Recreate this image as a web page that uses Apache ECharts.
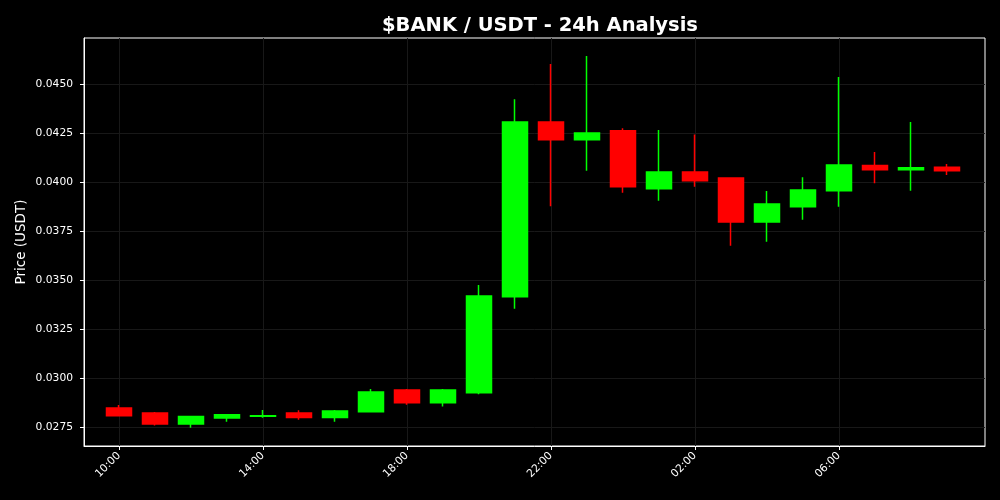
<!DOCTYPE html>
<html>
<head>
<meta charset="utf-8">
<style>
html,body{margin:0;padding:0;background:#000;}
#chart{width:1000px;height:500px;}
</style>
<script src="https://cdn.jsdelivr.net/npm/echarts@6/dist/echarts.min.js"></script>
</head>
<body>
<div id="chart"></div>
<script>
// hourly candles
const times = ['10:00','11:00','12:00','13:00','14:00','15:00','16:00','17:00','18:00','19:00','20:00','21:00',
               '22:00','23:00','00:00','01:00','02:00','03:00','04:00','05:00','06:00','07:00','08:00','09:00'];
const opens  = [0.02847,0.02821,0.02765,0.02796,0.02805,0.02821,0.02798,0.02828,0.02939,0.02874,0.02925,0.03415,
                0.04306,0.04216,0.04262,0.03966,0.04051,0.04020,0.03796,0.03874,0.03956,0.04085,0.04063,0.04076];
const closes = [0.02808,0.02765,0.02803,0.02813,0.02808,0.02798,0.02832,0.02929,0.02874,0.02939,0.03418,0.04306,
                0.04216,0.04250,0.03976,0.04051,0.04007,0.03796,0.03888,0.03959,0.04087,0.04063,0.04073,0.04058];
const lows   = [0.02805,0.02757,0.02746,0.02777,0.02797,0.02787,0.02777,0.02828,0.02864,0.02855,0.02917,0.03354,
                0.03876,0.04058,0.03945,0.03904,0.03976,0.03675,0.03695,0.03808,0.03874,0.03994,0.03956,0.04036];
const highs  = [0.02862,0.02826,0.02808,0.02816,0.02837,0.02835,0.02837,0.02944,0.02944,0.02944,0.03474,0.04423,
                0.04602,0.04643,0.04274,0.04265,0.04243,0.04025,0.03954,0.04025,0.04536,0.04153,0.04306,0.04092];
const yTicks = [0.0275,0.0300,0.0325,0.0350,0.0375,0.0400,0.0425,0.0450];
const xTickIdx = [0,4,8,12,16,20];

const data = times.map((t,i)=>[i, opens[i], closes[i], lows[i], highs[i]]);

const chart = echarts.init(document.getElementById('chart'), null, {renderer:'canvas'});
const font = 'DejaVu Sans';
chart.setOption({
  backgroundColor:'#000',
  animation:false,
  title:{
    text:'$BANK / USDT - 24h Analysis',
    left:535, top:11, textAlign:'center',
    textStyle:{color:'#fff', fontFamily:font, fontWeight:'bold', fontSize:19.5}
  },
  grid:{left:84, right:15, top:38, bottom:54, show:true, borderColor:'#fff', borderWidth:1, backgroundColor:'transparent'},
  xAxis:{
    type:'value', min:-0.972, max:24.06,
    axisLine:{show:true, onZero:false, lineStyle:{color:'#fff', width:1}},
    axisTick:{show:true, length:4, lineStyle:{color:'#fff'}, customValues:xTickIdx},
    axisLabel:{color:'#fff', fontFamily:font, fontSize:10.7, rotate:45, margin:8,
      customValues:xTickIdx, formatter:(v)=>times[Math.round(v)]},
    splitLine:{show:true, lineStyle:{color:'#181818', width:1}}
  },
  yAxis:{
    type:'value', min:0.02653, max:0.04735, scale:true,
    name:'Price (USDT)', nameLocation:'middle', nameGap:56, nameMoveOverlap:false,
    nameTextStyle:{color:'#fff', fontFamily:font, fontSize:13.5},
    axisLine:{show:true, onZero:false, lineStyle:{color:'#fff', width:1}},
    axisTick:{show:true, length:4, lineStyle:{color:'#fff'}, customValues:yTicks},
    axisLabel:{color:'#fff', fontFamily:font, fontSize:10.7, margin:11,
      customValues:yTicks, formatter:(v)=>v.toFixed(4)},
    splitLine:{show:true, lineStyle:{color:'#181818', width:1}}
  },
  series:[{
    type:'candlestick',
    data:data,
    barWidth:26,
    itemStyle:{color:'#00ff00', color0:'#ff0000', borderColor:'#00ff00', borderColor0:'#ff0000', borderWidth:1.5}
  }]
});
</script>
</body>
</html>
